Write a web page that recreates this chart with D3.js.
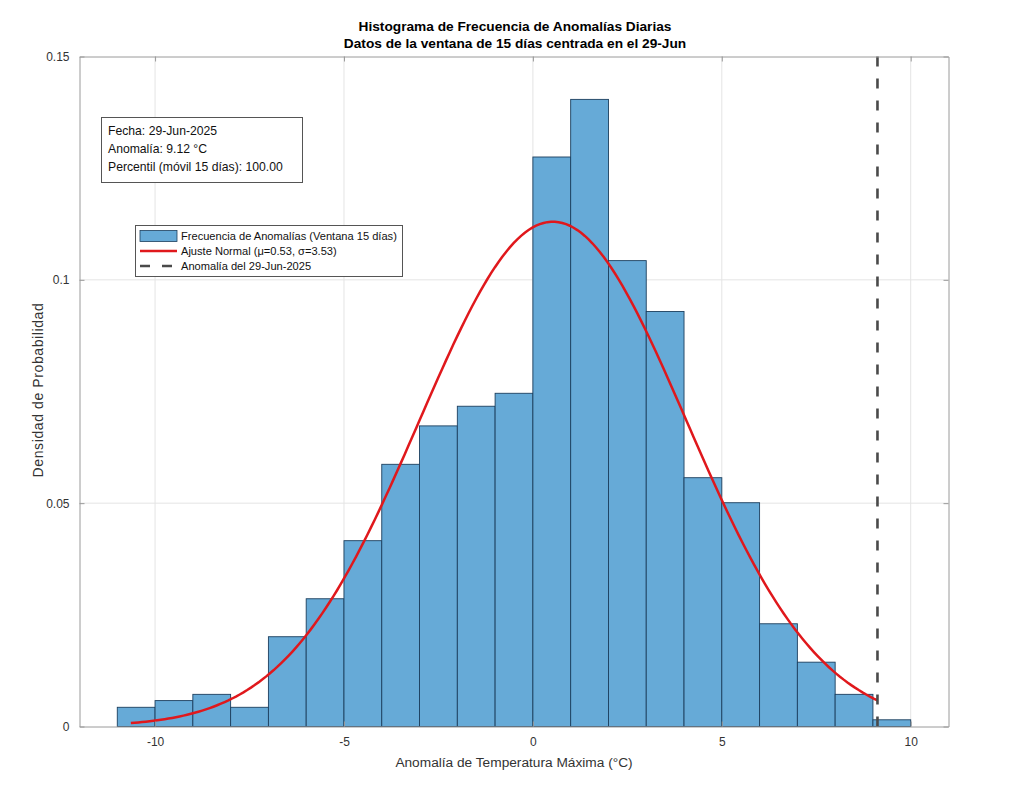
<!DOCTYPE html>
<html>
<head>
<meta charset="utf-8">
<script src="https://cdn.jsdelivr.net/npm/d3@7"></script>
<style>
  body { margin: 0; background: #fff; }
  svg { font-family: "Liberation Sans", Arial, sans-serif; }
</style>
</head>
<body>
<svg id="chart" width="1024" height="809"></svg>
<script>
// bordes de los bins (ancho 1 °C) y densidad de cada bin
const binEdges = [-11, -10, -9, -8, -7, -6, -5, -4, -3, -2, -1, 0, 1, 2, 3, 4, 5, 6, 7, 8, 9, 10];
const binDensity = [0.0043, 0.0058, 0.0072, 0.0043, 0.0201, 0.0286, 0.0416, 0.0587, 0.0673, 0.0717, 0.0746,
                    0.1275, 0.1404, 0.1043, 0.0929, 0.0557, 0.0501, 0.0230, 0.0144, 0.0072, 0.0015];

// ajuste normal
const fitMu = 0.53;
const fitSigma = 3.53;
const fitRange = [-10.64, 9.12];

const anomalyToday = 9.12;

const xTicks = [-10, -5, 0, 5, 10];
const yTicks = [0, 0.05, 0.1, 0.15];

const titleLines = ["Histograma de Frecuencia de Anomalías Diarias",
                    "Datos de la ventana de 15 días centrada en el 29-Jun"];
const infoLines = ["Fecha: 29-Jun-2025", "Anomalía: 9.12 °C", "Percentil (móvil 15 días): 100.00"];
const legendLabels = ["Frecuencia de Anomalías (Ventana 15 días)",
                      "Ajuste Normal (μ=0.53, σ=3.53)",
                      "Anomalía del 29-Jun-2025"];

const svg = d3.select("#chart");
const margin = { left: 79.5, top: 56.5, right: 1024 - 948.5, bottom: 809 - 726.5 };
const width = 1024 - margin.left - margin.right;
const height = 809 - margin.top - margin.bottom;

const x = d3.scaleLinear().domain([-12, 11]).range([0, width]);
const y = d3.scaleLinear().domain([0, 0.15]).range([height, 0]);

const g = svg.append("g").attr("transform", `translate(${margin.left},${margin.top})`);

// rejilla
g.append("g").selectAll("line").data(xTicks).join("line")
    .attr("x1", d => x(d)).attr("x2", d => x(d))
    .attr("y1", 0).attr("y2", height)
    .attr("stroke", "#e4e4e4").attr("stroke-width", 1);
g.append("g").selectAll("line").data(yTicks.slice(1, -1)).join("line")
    .attr("y1", d => y(d)).attr("y2", d => y(d))
    .attr("x1", 0).attr("x2", width)
    .attr("stroke", "#e4e4e4").attr("stroke-width", 1);

// histograma
const bins = binDensity.map((v, i) => ({ x0: binEdges[i], x1: binEdges[i + 1], v }));
g.append("g").selectAll("rect").data(bins).join("rect")
    .attr("x", d => x(d.x0))
    .attr("width", d => x(d.x1) - x(d.x0))
    .attr("y", d => y(d.v))
    .attr("height", d => y(0) - y(d.v))
    .attr("fill", "#66aad7")
    .attr("stroke", "#1c3f5e")
    .attr("stroke-width", 0.9);

// curva normal
const pdf = t => Math.exp(-0.5 * ((t - fitMu) / fitSigma) ** 2) / (fitSigma * Math.sqrt(2 * Math.PI));
const curveXs = d3.range(200).map(i => fitRange[0] + (fitRange[1] - fitRange[0]) * i / 199);
g.append("path")
    .datum(curveXs)
    .attr("fill", "none")
    .attr("stroke", "#e0181c")
    .attr("stroke-width", 2.5)
    .attr("d", d3.line().x(d => x(d)).y(d => y(pdf(d))));

// línea de la anomalía del día
g.append("line")
    .attr("x1", x(anomalyToday)).attr("x2", x(anomalyToday))
    .attr("y1", 0).attr("y2", height)
    .attr("stroke", "#4a4a4a")
    .attr("stroke-width", 2.6)
    .attr("stroke-dasharray", "10,12");

// ejes (caja con ticks hacia dentro)
const axisColor = "#9a9a9a";
const styleAxis = sel => {
    sel.select(".domain").attr("stroke", axisColor);
    sel.selectAll(".tick line").attr("stroke", axisColor);
    sel.selectAll(".tick text").attr("fill", "#333").attr("font-size", 12)
        .attr("font-family", "Liberation Sans, Arial, sans-serif");
};
const fmt = d => String(d);

g.append("g").attr("transform", `translate(0,${height})`)
    .call(d3.axisBottom(x).tickValues(xTicks).tickSize(-5).tickPadding(11).tickSizeOuter(0).tickFormat(fmt))
    .call(styleAxis);
g.append("g")
    .call(d3.axisTop(x).tickValues(xTicks).tickSize(-5).tickSizeOuter(0).tickFormat(""))
    .call(styleAxis);
g.append("g")
    .call(d3.axisLeft(y).tickValues(yTicks).tickSize(-5).tickPadding(10).tickSizeOuter(0).tickFormat(fmt))
    .call(styleAxis);
g.append("g").attr("transform", `translate(${width},0)`)
    .call(d3.axisRight(y).tickValues(yTicks).tickSize(-5).tickSizeOuter(0).tickFormat(""))
    .call(styleAxis);

// títulos
svg.append("g").selectAll("text").data(titleLines).join("text")
    .attr("x", 515).attr("y", (d, i) => 31 + i * 16.5)
    .attr("text-anchor", "middle")
    .attr("font-weight", "bold")
    .attr("font-size", 13.7)
    .attr("fill", "#000")
    .text(d => d);

svg.append("text")
    .attr("x", 514).attr("y", 767)
    .attr("text-anchor", "middle")
    .attr("font-size", 13.7).attr("fill", "#333")
    .text("Anomalía de Temperatura Máxima (°C)");

svg.append("text")
    .attr("transform", "translate(43,390) rotate(-90)")
    .attr("text-anchor", "middle")
    .attr("font-size", 14).attr("letter-spacing", 0.6).attr("fill", "#333")
    .text("Densidad de Probabilidad");

// cuadro de información
const info = svg.append("g");
info.append("rect")
    .attr("x", 101.5).attr("y", 117.5).attr("width", 201).attr("height", 65)
    .attr("fill", "#fff").attr("stroke", "#555").attr("stroke-width", 1);
info.selectAll("text").data(infoLines).join("text")
    .attr("x", 108).attr("y", (d, i) => 135 + i * 18)
    .attr("font-size", 12.2).attr("fill", "#111")
    .text(d => d);

// leyenda
const leg = svg.append("g");
leg.append("rect")
    .attr("x", 135.5).attr("y", 225.5).attr("width", 267).attr("height", 51)
    .attr("fill", "#fff").attr("stroke", "#555").attr("stroke-width", 1);
const rowY = [236, 251, 266];
leg.append("rect")
    .attr("x", 140).attr("y", rowY[0] - 5.5).attr("width", 37).attr("height", 11)
    .attr("fill", "#66aad7").attr("stroke", "#1c3f5e").attr("stroke-width", 0.8);
leg.append("line")
    .attr("x1", 140).attr("x2", 177).attr("y1", rowY[1]).attr("y2", rowY[1])
    .attr("stroke", "#e0181c").attr("stroke-width", 2.5);
leg.append("line")
    .attr("x1", 140).attr("x2", 177).attr("y1", rowY[2]).attr("y2", rowY[2])
    .attr("stroke", "#4a4a4a").attr("stroke-width", 2.6).attr("stroke-dasharray", "10,12");
leg.selectAll("text.lbl").data(legendLabels).join("text")
    .attr("class", "lbl")
    .attr("x", 181).attr("y", (d, i) => rowY[i] + 4)
    .attr("font-size", 11.1).attr("fill", "#111")
    .text(d => d);
</script>
</body>
</html>
